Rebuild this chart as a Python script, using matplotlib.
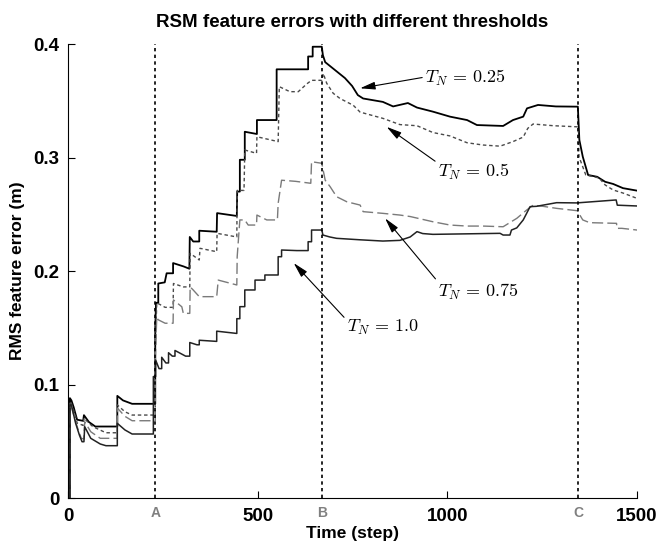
import matplotlib
matplotlib.use("Agg")
import matplotlib.pyplot as plt
from matplotlib import transforms

plt.rcParams['font.family'] = ['Liberation Sans', 'DejaVu Sans']
plt.rcParams['mathtext.fontset'] = 'cm'

# ---------------- data ----------------
title = "RSM feature errors with different thresholds"
x_label = "Time (step)"
y_label = "RMS feature error (m)"
x_ticks = [0, 500, 1000, 1500]
y_ticks = [0, 0.1, 0.2, 0.3, 0.4]
y_tick_labels = ["0", "0.1", "0.2", "0.3", "0.4"]
event_steps = [230, 670, 1345]
event_names = ["A", "B", "C"]

t025_pts = [(0, 0), (5, 0), (5, 0.088), (9, 0.086), (15, 0.080), (19, 0.075), (24, 0.069),
            (40, 0.068), (42, 0.073), (55, 0.067), (72, 0.063), (130, 0.063), (130, 0.090),
            (145, 0.086), (169, 0.083), (230, 0.083), (230, 0.150), (232, 0.172), (238, 0.172),
            (238, 0.189), (255, 0.190), (260, 0.198), (277, 0.198), (277, 0.207), (305, 0.204),
            (320, 0.202), (321, 0.230), (330, 0.226), (346, 0.226), (346, 0.2355), (392, 0.2346),
            (393, 0.251), (445, 0.2485), (446, 0.270), (453, 0.270), (453, 0.298), (466, 0.298),
            (466, 0.3227), (498, 0.3207), (498, 0.333), (550, 0.333), (550, 0.3777), (633, 0.3777),
            (633, 0.389), (645, 0.389), (645, 0.3976), (669, 0.3976), (672, 0.390), (678, 0.384),
            (704, 0.377), (730, 0.370), (749, 0.363), (764, 0.355), (778, 0.352), (830, 0.349),
            (857, 0.345), (896, 0.348), (920, 0.344), (962, 0.3404), (1007, 0.336), (1052, 0.333),
            (1078, 0.3286), (1147, 0.3278), (1173, 0.333), (1200, 0.336), (1210, 0.3433),
            (1239, 0.3463), (1286, 0.345), (1344, 0.3448), (1346, 0.330), (1348, 0.3154),
            (1357, 0.3007), (1371, 0.2846), (1395, 0.283), (1416, 0.2786), (1437, 0.2767),
            (1463, 0.273), (1500, 0.2708)]

t05_pts = [(0, 0), (5, 0), (5, 0.085), (9, 0.083), (20, 0.072), (24, 0.066), (40, 0.064),
           (42, 0.0705), (55, 0.066), (66, 0.0628), (100, 0.0575), (130, 0.0575), (130, 0.082),
           (150, 0.076), (169, 0.0731), (230, 0.0731), (230, 0.130), (234, 0.172), (256, 0.168),
           (277, 0.168), (278, 0.189), (304, 0.186), (321, 0.186), (322, 0.2156), (346, 0.2097),
           (348, 0.220), (392, 0.217), (393, 0.2332), (445, 0.230), (446, 0.271), (464, 0.271),
           (466, 0.3066), (497, 0.3037), (498, 0.3183), (554, 0.314), (557, 0.3624), (585, 0.358),
           (607, 0.358), (630, 0.365), (642, 0.368), (669, 0.368), (673, 0.374), (682, 0.3654),
           (699, 0.3566), (717, 0.352), (752, 0.346), (770, 0.340), (830, 0.3345), (875, 0.329),
           (920, 0.328), (962, 0.322), (1007, 0.319), (1052, 0.313), (1094, 0.311), (1139, 0.310),
           (1173, 0.314), (1200, 0.318), (1212, 0.3257), (1226, 0.3295), (1280, 0.328),
           (1345, 0.327), (1347, 0.3007), (1365, 0.2846), (1400, 0.282), (1416, 0.2758),
           (1437, 0.2714), (1463, 0.2687), (1500, 0.264)]

t075_pts = [(0, 0), (5, 0), (5, 0.080), (9, 0.080), (24, 0.063), (35, 0.0526), (42, 0.052),
            (44, 0.0672), (60, 0.0584), (85, 0.0526), (130, 0.0526), (130, 0.0793), (150, 0.072),
            (169, 0.0681), (230, 0.0681), (230, 0.120), (234, 0.1597), (238, 0.157), (256, 0.154),
            (277, 0.154), (278, 0.1745), (300, 0.1685), (304, 0.1627), (321, 0.1627), (322, 0.186),
            (330, 0.1833), (346, 0.1774), (392, 0.1774), (396, 0.192), (445, 0.1877), (446, 0.2126),
            (453, 0.245), (466, 0.245), (475, 0.2405), (497, 0.2405), (498, 0.2493), (524, 0.245),
            (552, 0.245), (554, 0.2596), (563, 0.280), (600, 0.279), (640, 0.2773), (642, 0.2963),
            (669, 0.2949), (678, 0.280), (691, 0.2743), (708, 0.2655), (735, 0.261), (770, 0.2581),
            (778, 0.2523), (830, 0.2508), (875, 0.2493), (902, 0.248), (962, 0.2434), (1007, 0.2405),
            (1052, 0.2396), (1094, 0.2396), (1147, 0.239), (1183, 0.2464), (1209, 0.2537),
            (1226, 0.258), (1252, 0.257), (1288, 0.2552), (1343, 0.2531), (1348, 0.250),
            (1357, 0.245), (1375, 0.2426), (1446, 0.242), (1447, 0.2376), (1460, 0.2376),
            (1500, 0.2361)]

t10_pts = [(0, 0), (5, 0), (5, 0.082), (9, 0.082), (20, 0.066), (30, 0.0555), (37, 0.0496),
           (42, 0.0496), (44, 0.0628), (60, 0.0526), (85, 0.0476), (100, 0.0461), (130, 0.0461),
           (130, 0.0658), (150, 0.060), (169, 0.0564), (225, 0.0564), (225, 0.107), (231, 0.107),
           (231, 0.1216), (240, 0.114), (247, 0.114), (247, 0.124), (258, 0.119), (265, 0.119),
           (265, 0.128), (275, 0.125), (282, 0.125), (282, 0.130), (310, 0.125), (321, 0.125),
           (321, 0.137), (340, 0.135), (346, 0.135), (346, 0.139), (392, 0.138), (392, 0.147),
           (445, 0.145), (445, 0.158), (453, 0.158), (453, 0.1686), (466, 0.1686), (466, 0.1833),
           (493, 0.1833), (493, 0.192), (519, 0.192), (519, 0.1965), (554, 0.1965), (554, 0.2126),
           (563, 0.2126), (563, 0.2185), (603, 0.218), (633, 0.218), (633, 0.2258), (642, 0.2258),
           (642, 0.2361), (669, 0.2361), (672, 0.2317), (690, 0.230), (708, 0.2288), (770, 0.2275),
           (830, 0.2264), (875, 0.2270), (902, 0.230), (920, 0.2347), (935, 0.2330), (962, 0.2323),
           (1139, 0.2332), (1147, 0.2317), (1165, 0.2317), (1169, 0.2361), (1183, 0.238),
           (1200, 0.245), (1209, 0.2508), (1218, 0.2567), (1235, 0.257), (1288, 0.2602),
           (1341, 0.260), (1393, 0.2613), (1445, 0.2626), (1448, 0.258), (1500, 0.2573)]

series_labels = [r"$T_N\,=\,0.25$", r"$T_N\,=\,0.5$", r"$T_N\,=\,0.75$", r"$T_N\,=\,1.0$"]
# (arrow tip, text anchor) in data units
arrow_tips = [(770, 0.361), (840, 0.327), (836, 0.2464), (595, 0.207)]
text_anchors = [(941, 0.370), (975, 0.2875), (975, 0.1818), (735, 0.1507)]

# ---------------- figure ----------------
fig = plt.figure(figsize=(6.57, 5.48), dpi=100)
ax = fig.add_axes([0.1035, 0.0912, 0.8661, 0.8285])

styles = [
    dict(color="black", lw=1.3, ls="-"),
    dict(color="#4a4a4a", lw=1.0, ls=(0, (2.5, 2))),
    dict(color="#7a7a7a", lw=1.0, ls=(0, (8, 3))),
    dict(color="#222222", lw=1.1, ls="-"),
]
for pts, st in zip([t025_pts, t05_pts, t075_pts, t10_pts], styles):
    xs = [p[0] for p in pts]
    ys = [p[1] for p in pts]
    ax.plot(xs, ys, **st)

for xv in event_steps:
    ax.axvline(xv, color="black", lw=1.2, ls=(0, (2, 2)))

ax.set_xlim(0, 1500)
ax.set_ylim(0, 0.4)
ax.spines['top'].set_visible(False)
ax.spines['right'].set_visible(False)
ax.set_xticks(x_ticks)
ax.set_yticks(y_ticks)
ax.set_yticklabels(y_tick_labels)
ax.tick_params(direction="in", length=5, width=0.8, labelsize=13.5)
ax.tick_params(axis="x", pad=7)
ax.tick_params(axis="y", pad=6)
for lab in ax.get_xticklabels() + ax.get_yticklabels():
    lab.set_fontweight("bold")

trans = transforms.blended_transform_factory(ax.transData, ax.transAxes)
for xv, nm in zip(event_steps, event_names):
    ax.text(xv, -0.018, nm, transform=trans, ha="center", va="top",
            fontsize=10, fontweight="bold", color="#808080")

ax.set_title(title, fontsize=13.5, fontweight="bold", pad=12)
ax.set_xlabel(x_label, fontsize=12.5, fontweight="bold", labelpad=1)
ax.set_ylabel(y_label, fontsize=12.5, fontweight="bold", labelpad=6)

relposes = [(0.0, 0.55), (0.03, 0.85), (0.03, 0.85), (0.0, 0.85)]
for lbl, tip, anc, rp in zip(series_labels, arrow_tips, text_anchors, relposes):
    ax.annotate(lbl, xy=tip, xytext=anc, textcoords="data", ha="left", va="center",
                fontsize=13,
                arrowprops=dict(arrowstyle="-|>,head_length=0.7,head_width=0.18",
                                color="black", lw=0.8, shrinkA=0, shrinkB=0, relpos=rp))

fig.savefig("out.png", dpi=100)
